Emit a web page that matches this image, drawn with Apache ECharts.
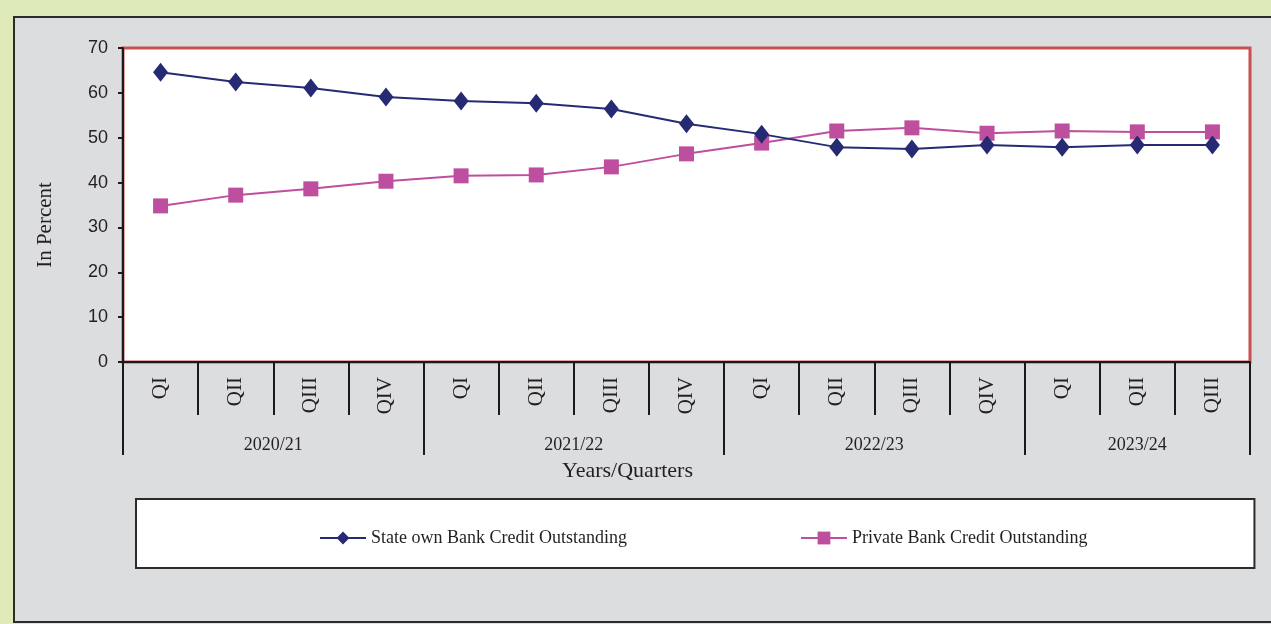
<!DOCTYPE html>
<html>
<head>
<meta charset="utf-8">
<script src="https://cdn.jsdelivr.net/npm/echarts@6/dist/echarts.min.js"></script>
<style>
  html, body { margin: 0; padding: 0; width: 1271px; height: 624px; overflow: hidden; background: #DEEAB8; }
  #panel { position: absolute; left: 13px; top: 16px; width: 1270px; height: 603px;
           background: #DCDDDF; border: 2px solid #2b2b2b; }
  #chart { position: absolute; left: 0; top: 0; width: 1271px; height: 624px; }
</style>
</head>
<body>
<div id="panel"></div>
<div id="chart"></div>
<script>
// Quarters along the bottom axis, grouped by fiscal year
const quarters = ['QI','QII','QIII','QIV','QI','QII','QIII','QIV','QI','QII','QIII','QIV','QI','QII','QIII'];
const years = ['2020/21', '2021/22', '2022/23', '2023/24'];
const yearBoundaries = [0, 4, 8, 12, 15];   // quarter index where each year starts / ends
const yearCentres = [2, 6, 10, 13.5];

// Share of total bank credit outstanding (%)
const stateOwn = [64.6, 62.4, 61.1, 59.1, 58.2, 57.7, 56.4, 53.1, 50.8, 47.9, 47.5, 48.4, 47.9, 48.4, 48.4];
const privateBank = [34.8, 37.2, 38.6, 40.3, 41.5, 41.7, 43.5, 46.4, 48.8, 51.5, 52.2, 51.0, 51.5, 51.3, 51.3];

const yTicks = { min: 0, max: 70, interval: 10 };

const ink = '#231F20';
const serif = 'Liberation Serif';

const chart = echarts.init(document.getElementById('chart'), null, { renderer: 'canvas' });
chart.setOption({
  backgroundColor: 'transparent',
  animation: false,
  grid: {
    left: 123, right: 21, top: 48, bottom: 262,
    show: true, backgroundColor: '#ffffff', borderColor: '#C8504E', borderWidth: 3
  },
  legend: {
    left: 136, top: 499,
    padding: [30, 167, 21, 183],
    itemGap: 173,
    itemWidth: 46, itemHeight: 16,
    backgroundColor: '#ffffff',
    borderColor: '#2b2b2b', borderWidth: 2,
    textStyle: { fontFamily: serif, fontSize: 18, color: ink },
    data: ['State own Bank Credit Outstanding', 'Private Bank Credit Outstanding']
  },
  xAxis: [
    {
      type: 'category',
      data: quarters,
      boundaryGap: true,
      axisLine: { show: true, lineStyle: { color: '#1a1a1a', width: 2 } },
      axisTick: { show: true, interval: 0, length: 53, lineStyle: { color: '#1a1a1a', width: 2 } },
      axisLabel: { interval: 0, rotate: 90, margin: 15, fontFamily: serif, fontSize: 21, color: ink },
      splitLine: { show: false }
    },
    {
      type: 'value',
      position: 'bottom',
      min: 0, max: 15,
      axisLine: { show: false },
      axisTick: { show: true, customValues: yearBoundaries, length: 93, lineStyle: { color: '#1a1a1a', width: 2 } },
      axisLabel: {
        customValues: yearCentres, margin: 74,
        fontFamily: serif, fontSize: 18, color: ink,
        formatter: v => years[yearCentres.indexOf(v)]
      },
      splitLine: { show: false },
      name: 'Years/Quarters', nameLocation: 'middle', nameGap: 98,
      nameTextStyle: { fontFamily: serif, fontSize: 22, color: ink, padding: [0, 118, 0, 0] }
    }
  ],
  yAxis: {
    type: 'value',
    min: yTicks.min, max: yTicks.max, interval: yTicks.interval,
    axisLine: { show: true, lineStyle: { color: '#1a1a1a', width: 2 } },
    axisTick: { show: true, inside: false, length: 5, lineStyle: { color: '#1a1a1a', width: 2 } },
    axisLabel: { margin: 15, fontFamily: 'Liberation Sans', fontSize: 18, color: ink },
    splitLine: { show: false },
    name: 'In Percent', nameLocation: 'middle', nameGap: 67, nameRotate: 90,
    nameTextStyle: { fontFamily: serif, fontSize: 21, color: ink, padding: [0, 40, 0, 0] }
  },
  series: [
    {
      name: 'State own Bank Credit Outstanding',
      type: 'line', xAxisIndex: 0,
      data: stateOwn,
      symbol: 'diamond', symbolSize: [15, 19],
      lineStyle: { color: '#262A72', width: 2 },
      itemStyle: { color: '#262A72' },
      z: 3
    },
    {
      name: 'Private Bank Credit Outstanding',
      type: 'line', xAxisIndex: 0,
      data: privateBank,
      symbol: 'rect', symbolSize: [15, 15],
      lineStyle: { color: '#BE4F9E', width: 2 },
      itemStyle: { color: '#BE4F9E' },
      z: 2
    }
  ]
});
</script>
</body>
</html>
